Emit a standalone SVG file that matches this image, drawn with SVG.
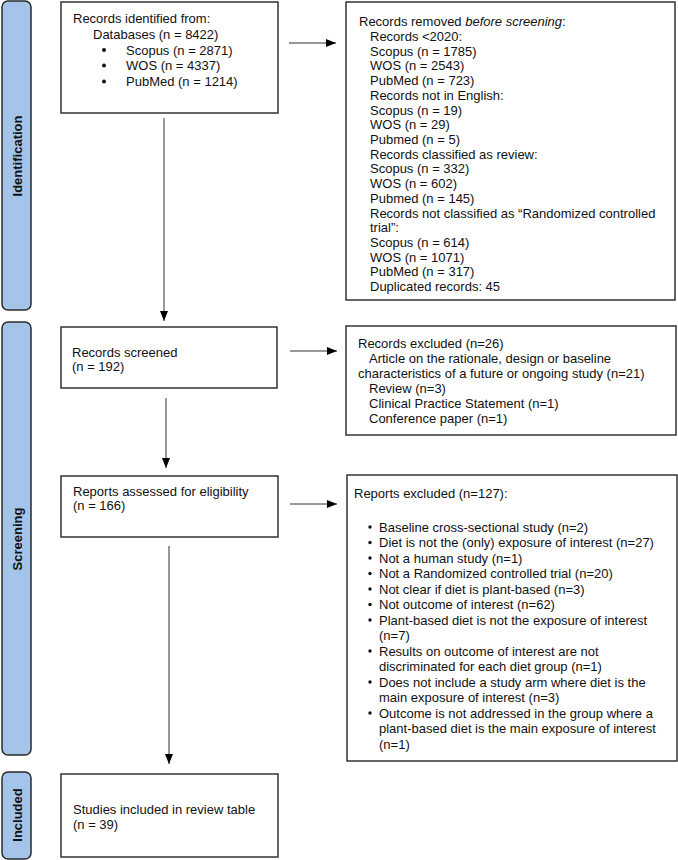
<svg xmlns="http://www.w3.org/2000/svg" width="678" height="860" viewBox="0 0 678 860">
<style>
text{font-family:"Liberation Sans",Arial,sans-serif;font-size:13px;fill:#111}
.box{fill:#fff;stroke:#333;stroke-width:1.5}
.side{fill:#a4c4e9;stroke:#2a2a2a;stroke-width:1.5}
.lab{font-weight:bold;font-size:13px;text-anchor:middle}
.con{stroke:#333;stroke-width:1;fill:none;marker-end:url(#ah)}
.dot{fill:#111}
</style>
<defs>
<marker id="ah" viewBox="0 0 10 10" refX="10" refY="5" markerWidth="10" markerHeight="10" markerUnits="userSpaceOnUse" orient="auto">
<path d="M0,1 L10,5 L0,9 Z" fill="#000"/>
</marker>
</defs>
<rect width="678" height="860" fill="#fff"/>

<g id="side-identification">
<rect class="side" x="2" y="1" width="29" height="309" rx="6"/>
<text class="lab" transform="translate(21.5,156) rotate(-90)">Identification</text>
</g>
<g id="side-screening">
<rect class="side" x="2" y="322" width="29" height="433" rx="6"/>
<text class="lab" transform="translate(21.5,539) rotate(-90)">Screening</text>
</g>
<g id="side-included">
<rect class="side" x="2" y="772" width="29" height="87" rx="6"/>
<text class="lab" transform="translate(21.5,815) rotate(-90)">Included</text>
</g>

<g id="connectors">
<line class="con" x1="289" y1="43" x2="336" y2="43"/>
<line class="con" x1="164" y1="118" x2="164" y2="321"/>
<line class="con" x1="290" y1="351" x2="337" y2="351"/>
<line class="con" x1="166" y1="398" x2="166" y2="468"/>
<line class="con" x1="290" y1="504" x2="337" y2="504"/>
<line class="con" x1="169" y1="546" x2="169" y2="764"/>
</g>

<g id="node-identified">
<rect class="box" x="61" y="2" width="217" height="111"/>
<text x="73" y="23">Records identified from:</text>
<text x="93" y="38.5">Databases (n = 8422)</text>
<circle class="dot" cx="104" cy="50" r="2"/>
<text x="126" y="54.5">Scopus (n = 2871)</text>
<circle class="dot" cx="104" cy="65.5" r="2"/>
<text x="126" y="70">WOS (n = 4337)</text>
<circle class="dot" cx="104" cy="81.5" r="2"/>
<text x="126" y="86">PubMed (n = 1214)</text>
</g>

<g id="node-removed">
<rect class="box" x="346" y="2" width="329" height="298"/>
<text x="359" y="26.2">Records removed <tspan font-style="italic">before screening</tspan>:</text>
<text x="370" y="40.9">Records &lt;2020:</text>
<text x="370" y="55.6">Scopus (n = 1785)</text>
<text x="370" y="70.4">WOS (n = 2543)</text>
<text x="370" y="85.1">PubMed (n = 723)</text>
<text x="370" y="99.8">Records not in English:</text>
<text x="370" y="114.5">Scopus (n = 19)</text>
<text x="370" y="129.2">WOS (n = 29)</text>
<text x="370" y="144">Pubmed (n = 5)</text>
<text x="370" y="158.7">Records classified as review:</text>
<text x="370" y="173.4">Scopus (n = 332)</text>
<text x="370" y="188.1">WOS (n = 602)</text>
<text x="370" y="202.8">Pubmed (n = 145)</text>
<text x="370" y="217.6">Records not classified as “Randomized controlled</text>
<text x="370" y="232.3">trial”:</text>
<text x="370" y="247">Scopus (n = 614)</text>
<text x="370" y="261.7">WOS (n = 1071)</text>
<text x="370" y="276.4">PubMed (n = 317)</text>
<text x="370" y="291.2">Duplicated records: 45</text>
</g>

<g id="node-screened">
<rect class="box" x="61" y="327" width="216" height="61"/>
<text x="72" y="356.5">Records screened</text>
<text x="72" y="371">(n = 192)</text>
</g>

<g id="node-excluded">
<rect class="box" x="346" y="326" width="330" height="109"/>
<text x="358" y="348">Records excluded (n=26)</text>
<text x="369" y="363">Article on the rationale, design or baseline</text>
<text x="358" y="378">characteristics of a future or ongoing study (n=21)</text>
<text x="369" y="393">Review (n=3)</text>
<text x="369" y="408">Clinical Practice Statement (n=1)</text>
<text x="369" y="423">Conference paper (n=1)</text>
</g>

<g id="node-assessed">
<rect class="box" x="61" y="476" width="217" height="61"/>
<text x="73" y="495.5">Reports assessed for eligibility</text>
<text x="73" y="510">(n = 166)</text>
</g>

<g id="node-reports-excluded">
<rect class="box" x="347" y="475" width="330" height="286"/>
<text x="354" y="497.5">Reports excluded (n=127):</text>
<circle class="dot" cx="370" cy="527" r="1.7"/>
<text x="379" y="531.5">Baseline cross-sectional study (n=2)</text>
<circle class="dot" cx="370" cy="542.5" r="1.7"/>
<text x="379" y="547">Diet is not the (only) exposure of interest (n=27)</text>
<circle class="dot" cx="370" cy="558" r="1.7"/>
<text x="379" y="562.5">Not a human study (n=1)</text>
<circle class="dot" cx="370" cy="573.5" r="1.7"/>
<text x="379" y="578">Not a Randomized controlled trial (n=20)</text>
<circle class="dot" cx="370" cy="589" r="1.7"/>
<text x="379" y="593.5">Not clear if diet is plant-based (n=3)</text>
<circle class="dot" cx="370" cy="604.5" r="1.7"/>
<text x="379" y="609">Not outcome of interest (n=62)</text>
<circle class="dot" cx="370" cy="620" r="1.7"/>
<text x="379" y="624.5">Plant-based diet is not the exposure of interest</text>
<text x="379" y="640">(n=7)</text>
<circle class="dot" cx="370" cy="651" r="1.7"/>
<text x="379" y="655.5">Results on outcome of interest are not</text>
<text x="379" y="671">discriminated for each diet group (n=1)</text>
<circle class="dot" cx="370" cy="682" r="1.7"/>
<text x="379" y="686.5">Does not include a study arm where diet is the</text>
<text x="379" y="702">main exposure of interest (n=3)</text>
<circle class="dot" cx="370" cy="713" r="1.7"/>
<text x="379" y="717.5">Outcome is not addressed in the group where a</text>
<text x="379" y="733">plant-based diet is the main exposure of interest</text>
<text x="379" y="748.5">(n=1)</text>
</g>

<g id="node-included">
<rect class="box" x="61" y="774" width="217" height="83"/>
<text x="73" y="813.5">Studies included in review table</text>
<text x="73" y="828.5">(n = 39)</text>
</g>
</svg>
